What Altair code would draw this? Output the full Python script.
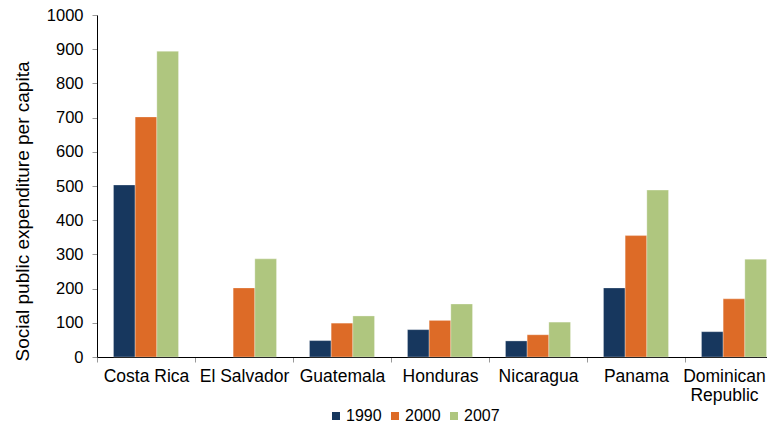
import altair as alt
import pandas as pd

countries = ["Costa Rica", "El Salvador", "Guatemala", "Honduras",
             "Nicaragua", "Panama", "Dominican Republic"]
years = ["1990", "2000", "2007"]
v1990 = [503, None, 48, 80, 47, 202, 74]
v2000 = [702, 202, 99, 107, 65, 355, 170]
v2007 = [894, 287, 120, 155, 102, 488, 286]
colors = ["#17375E", "#DD6B27", "#AFC67F"]
y_ticks = [0, 100, 200, 300, 400, 500, 600, 700, 800, 900, 1000]

rows = []
for yr, vals in zip(years, [v1990, v2000, v2007]):
    for c, v in zip(countries, vals):
        if v is not None:
            rows.append({"country": c, "year": yr, "value": v})
df = pd.DataFrame(rows)

FONT = "Liberation Sans"

chart = alt.Chart(df).mark_bar(
    stroke="#ffffff", strokeWidth=0.6, strokeOpacity=0.5
).encode(
    x=alt.X(
        "country:N", sort=countries,
        scale=alt.Scale(range=[0, 686], paddingInner=0, paddingOuter=0),
        axis=alt.Axis(
            title=None, labelAngle=0, labelFontSize=17.5, labelColor="#000000",
            labelFont=FONT, labelPadding=5, labelOverlap=False, labelLineHeight=19,
            labelExpr="datum.label == 'Dominican Republic' ? ['Dominican', 'Republic'] : datum.label",
            labelOffset={"condition": {"test": "datum.label == 'Dominican Republic'", "value": -10},
                         "value": 0},
            tickBand="extent", tickSize=5, tickColor="#999999",
            domainColor="#000000", domainWidth=1,
        ),
    ),
    xOffset=alt.XOffset(
        "year:N", sort=years,
        scale=alt.Scale(paddingInner=0, paddingOuter=0.76),
    ),
    y=alt.Y(
        "value:Q",
        scale=alt.Scale(domain=[0, 1000], nice=False),
        axis=alt.Axis(
            values=y_ticks, grid=False, format="d",
            title="Social public expenditure per capita",
            titleFontSize=19, titleFontWeight="normal", titleColor="#000000",
            titleFont=FONT, titlePadding=14, titleY=196,
            labelFontSize=16.5, labelColor="#000000", labelFont=FONT,
            labelPadding=9, tickSize=5, tickColor="#999999",
            domainColor="#000000", domainWidth=1,
        ),
    ),
    color=alt.Color(
        "year:N", sort=years,
        scale=alt.Scale(domain=years, range=colors),
        legend=alt.Legend(
            title=None, orient="none", direction="horizontal",
            legendX=231, legendY=393,
            symbolType="square", symbolSize=64, symbolStrokeWidth=0,
            labelFontSize=16, labelFont=FONT, labelColor="#000000",
            labelOffset=2, columnPadding=5, padding=0,
        ),
    ),
).properties(
    width=670, height=342,
    autosize=alt.AutoSizeParams(type="none"),
    padding={"left": 89, "top": 7, "right": 0, "bottom": 65},
    background="#ffffff",
).configure_view(stroke=None)

chart.save("out.html", embed_options={"renderer": "svg", "actions": False})
